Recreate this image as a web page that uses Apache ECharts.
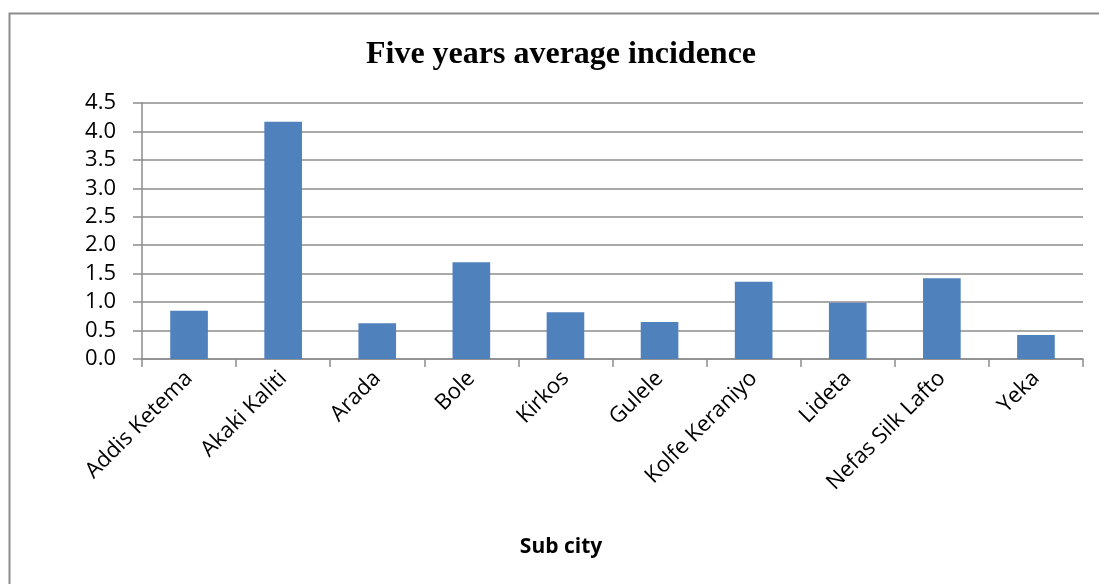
<!DOCTYPE html>
<html>
<head>
<meta charset="utf-8">
<script src="https://cdn.jsdelivr.net/npm/echarts@6/dist/echarts.min.js"></script>
<style>
  html, body { margin: 0; padding: 0; background: #ffffff; }
  #chart { width: 1099px; height: 584px; }
</style>
</head>
<body>
<div id="chart"></div>
<script>
// Sub cities and their five-year average incidence
const subCities = ['Addis Ketema', 'Akaki Kaliti', 'Arada', 'Bole', 'Kirkos',
  'Gulele', 'Kolfe Keraniyo', 'Lideta', 'Nefas Silk Lafto', 'Yeka'];
const incidence = [0.85, 4.17, 0.63, 1.70, 0.82, 0.65, 1.36, 0.99, 1.42, 0.42];
const yTicks = { min: 0, max: 4.5, step: 0.5 };

const chart = echarts.init(document.getElementById('chart'), null, { renderer: 'canvas' });
const gridColor = '#8c8c8c';

chart.setOption({
  backgroundColor: '#ffffff',
  animation: false,
  graphic: [
    // frame along the left and top edges
    { type: 'polyline', shape: { points: [[9.5, 584], [9.5, 13.5], [1099, 13.5]] },
      style: { stroke: '#8c8c8c', lineWidth: 2, fill: null } },
    // chart title
    { type: 'text', x: 561, y: 55,
      style: { text: 'Five years average incidence', textAlign: 'center', textVerticalAlign: 'middle',
        font: 'bold 32px "Liberation Serif"', fill: '#000' } },
    // x axis title, centred on the chart area
    { type: 'text', x: 561, y: 547,
      style: { text: 'Sub city', textAlign: 'center', textVerticalAlign: 'middle',
        font: 'bold 21px "Open Sans"', fill: '#000' } }
  ],
  grid: { left: 142, right: 16, top: 103, bottom: 225 },
  xAxis: {
    type: 'category',
    data: subCities,
    axisLine: { lineStyle: { color: gridColor, width: 1.5 } },
    axisTick: { show: true, length: 8, lineStyle: { color: gridColor, width: 1.5 } },
    axisLabel: { rotate: 45, fontFamily: 'Open Sans', fontSize: 22, color: '#000', margin: 16 }
  },
  yAxis: {
    type: 'value',
    min: yTicks.min,
    max: yTicks.max,
    interval: yTicks.step,
    axisLine: { show: true, lineStyle: { color: gridColor, width: 1.5 } },
    axisTick: { show: true, length: 9, lineStyle: { color: gridColor, width: 1.5 } },
    splitLine: { lineStyle: { color: gridColor, width: 1.5 } },
    axisLabel: {
      fontFamily: 'Open Sans', fontSize: 22, color: '#000', margin: 26,
      formatter: v => v.toFixed(1)
    }
  },
  series: [{
    type: 'bar',
    data: incidence,
    barCategoryGap: '60%',
    itemStyle: { color: '#4f81bd' }
  }]
});
</script>
</body>
</html>
